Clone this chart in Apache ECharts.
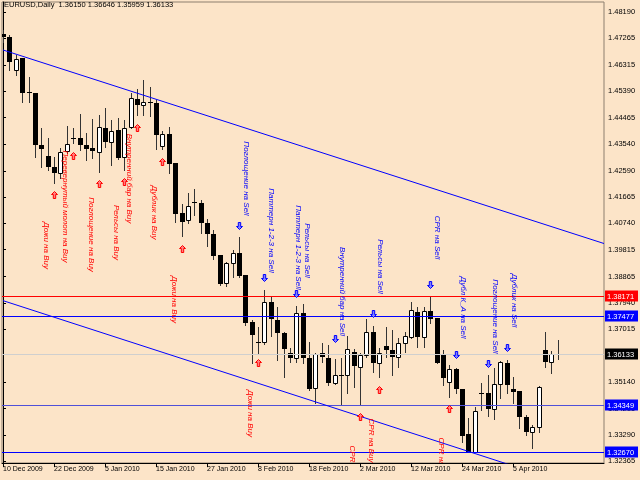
<!DOCTYPE html>
<html><head><meta charset="utf-8">
<script src="https://cdn.jsdelivr.net/npm/echarts@6/dist/echarts.min.js"></script>
<style>html,body{margin:0;padding:0;background:#FCE4C8}#c{width:640px;height:480px}</style>
</head><body><div id="c"></div><script>
const headerText = 'EURUSD,Daily  1.36150 1.36646 1.35959 1.36133';
const dateLabelBars = [0, 8, 16, 24, 32, 40, 48, 56, 64, 72, 80];
const dateLabels = ['10 Dec 2009','22 Dec 2009','5 Jan 2010','15 Jan 2010','27 Jan 2010','8 Feb 2010','18 Feb 2010','2 Mar 2010','12 Mar 2010','24 Mar 2010','5 Apr 2010'];
const priceTicks = [1.48190,1.47265,1.46315,1.45390,1.44465,1.43540,1.42590,1.41665,1.40740,1.39815,1.38865,1.37940,1.37015,1.35140,1.34215,1.33290,1.32365];

const opens = [1.47415,1.47309,1.46146,1.46569,1.45370,1.45335,1.43503,1.43115,1.42727,1.42516,
1.43291,1.43749,1.43749,1.43503,1.43397,1.43256,1.44102,1.43608,1.44031,1.43080,
1.44137,1.45124,1.44912,1.45018,1.44983,1.43467,1.43890,1.42868,1.41106,1.40859,
1.41494,1.41458,1.40754,1.40366,1.39626,1.38639,1.39344,1.39696,1.38921,1.37264,
1.36559,1.36559,1.37969,1.37335,1.36877,1.36172,1.35996,1.37582,1.35996,1.34938,
1.36172,1.35996,1.35114,1.35396,1.35396,1.36207,1.35678,1.36101,1.36912,1.35819,
1.36418,1.36278,1.36031,1.36524,1.36736,1.37617,1.36736,1.37652,1.37405,1.36101,
1.35150,1.35608,1.34903,1.33317,1.32683,1.34762,1.34762,1.34198,1.35079,1.35819,
1.34903,1.34833,1.33916,1.33388,1.33564,1.36278,1.35855,1.36150];
const highs = [1.47556,1.47379,1.46675,1.46569,1.45899,1.45335,1.44102,1.43749,1.43080,1.43397,
1.44172,1.44102,1.44595,1.43925,1.44419,1.44560,1.44807,1.44384,1.44454,1.44384,
1.45335,1.45476,1.45793,1.45547,1.45089,1.43996,1.44137,1.42868,1.41423,1.41811,
1.41952,1.41564,1.40894,1.40507,1.39626,1.39379,1.39802,1.40260,1.38921,1.37335,
1.37088,1.38392,1.38146,1.37793,1.36912,1.36348,1.37828,1.37899,1.36559,1.36172,
1.36524,1.36454,1.35960,1.35996,1.36771,1.36313,1.36172,1.37370,1.37123,1.36348,
1.37088,1.36982,1.36700,1.36912,1.37969,1.37793,1.37793,1.38146,1.37405,1.36278,
1.35749,1.35643,1.34903,1.33881,1.34269,1.35114,1.35396,1.35643,1.35890,1.35925,
1.35326,1.34833,1.33987,1.33634,1.35009,1.36912,1.36242,1.36646];
const lows = [1.47133,1.46146,1.45970,1.45018,1.45018,1.43080,1.42727,1.42621,1.42163,1.42339,
1.43221,1.43573,1.43326,1.42974,1.43044,1.42551,1.43432,1.42798,1.43009,1.42621,
1.44102,1.44560,1.44560,1.44525,1.43362,1.43362,1.42516,1.40789,1.40295,1.40754,
1.41035,1.40401,1.39943,1.39485,1.38569,1.38533,1.38850,1.38850,1.37159,1.35819,
1.36172,1.36489,1.36771,1.35925,1.35326,1.35855,1.35855,1.35819,1.34868,1.34410,
1.35855,1.35044,1.35079,1.34339,1.34762,1.34973,1.34339,1.36031,1.35502,1.35326,
1.36031,1.35396,1.35678,1.36207,1.36700,1.36383,1.36383,1.37229,1.35819,1.35044,
1.34621,1.34762,1.33035,1.32683,1.32683,1.34163,1.33951,1.33846,1.34586,1.34762,
1.34410,1.33528,1.33282,1.32824,1.33388,1.35678,1.35467,1.35959];
const closes = [1.47309,1.46428,1.46534,1.45335,1.45335,1.43503,1.43362,1.42727,1.42516,1.43256,
1.43538,1.43714,1.43503,1.43362,1.43291,1.44137,1.43608,1.43996,1.43044,1.44102,
1.45159,1.44912,1.45018,1.44983,1.43855,1.43890,1.42833,1.41071,1.40789,1.41353,
1.41458,1.40754,1.40366,1.39590,1.38604,1.39344,1.39696,1.38886,1.37229,1.36806,
1.36524,1.37969,1.37370,1.36877,1.36313,1.35996,1.37582,1.35996,1.34903,1.36137,
1.36031,1.35114,1.35396,1.35361,1.36313,1.35714,1.36101,1.36912,1.35819,1.36172,
1.36278,1.36031,1.36524,1.36771,1.37687,1.36736,1.37652,1.37370,1.35819,1.35291,
1.35608,1.34903,1.33247,1.32683,1.34128,1.34727,1.34198,1.35079,1.35855,1.35044,
1.34797,1.33916,1.33388,1.33564,1.34973,1.35855,1.36137,1.36133];

const buyBars = [8, 11, 15, 19, 21, 25, 28, 40, 56, 59, 70];
const buyPrices = [1.41740,1.43115,1.42128,1.42199,1.44102,1.42903,1.39837,1.35819,1.33916,1.34868,1.34198];
const buyTexts = ['Дожи на Buy','Перевернутый молот на Buy','Поглощение на Buy','Рельсы на Buy','Внутренний бар на Buy','Дублик на Buy','Дожи на Buy','Дожи на Buy','CPR на Buy','CPR на Buy','CPR на Buy'];
const sellBars = [37, 41, 46, 52, 58, 67, 71, 76, 79];
const sellPrices = [1.40683,1.38850,1.38286,1.36700,1.37582,1.38604,1.36137,1.35830,1.36394];
const sellTexts = ['Поглощение на Sell','Паттерн 1-2-3 на Sell','Паттерн 1-2-3 на Sell\nРельсы на Sell','Внутренний бар на Sell','Рельсы на Sell','CPR на Sell','Дубл К_А на Sell','Поглощение на Sell','Дублик на Sell'];

const upperChannel = [[0, 1.46851], [94.27, 1.40030]];
const lowerChannel = [[0, 1.38017], [80, 1.32194]];
const levelPrices = [1.38171, 1.37477, 1.36133, 1.34349, 1.32670];

const levelStyles = [
  {line:'#FF0000', tag:'#FF0000'},
  {line:'#0000FF', tag:'#0000FF'},
  {line:'#CFCFCF', tag:'#000000'},
  {line:'#5050D8', tag:'#0000FF'},
  {line:'#0000FF', tag:'#0000FF'}
];
const FONT = '"Liberation Sans", Arial, sans-serif';

const candleData = opens.map((o, i) => [i, o, highs[i], lows[i], closes[i]]);
const buyData = buyBars.map((b, i) => [b, buyPrices[i]]);
const sellData = sellBars.map((b, i) => [b, sellPrices[i]]);
const levelData = levelPrices.map((v, k) => [k, v]);

function renderCandle(params, api) {
  const i = api.value(0), o = api.value(1), h = api.value(2), l = api.value(3), c = api.value(4);
  const po = api.coord([i, o]), pc = api.coord([i, c]), ph = api.coord([i, h]), pl = api.coord([i, l]);
  const x = Math.round(po[0]);
  const top = Math.round(Math.min(po[1], pc[1])), bot = Math.round(Math.max(po[1], pc[1]));
  const up = c > o;
  const children = [
    {type:'line', shape:{x1:x+0.5, y1:Math.round(ph[1]), x2:x+0.5, y2:Math.round(pl[1])+1}, style:{stroke:'#333', lineWidth:1}}
  ];
  if (up) {
    children.push({type:'rect', shape:{x:x-1.5, y:top+0.5, width:4, height:Math.max(bot-top,1)}, style:{fill:'#FFFFFF', stroke:'#000', lineWidth:1}});
  } else {
    children.push({type:'rect', shape:{x:x-2, y:top, width:5, height:Math.max(bot-top,1)}, style:{fill:'#000', stroke:null}});
  }
  return {type:'group', children};
}

function renderLevel(params, api) {
  const v = api.value(1);
  const k = params.dataIndex;
  const cs = params.coordSys;
  const y = Math.round(api.coord([0, v])[1]) + 0.5;
  const xr = cs.x + cs.width;
  const st = levelStyles[k];
  return {type:'group', children:[
    {type:'line', shape:{x1: cs.x, y1: y, x2: xr, y2: y}, style:{stroke: st.line, lineWidth: 1}},
    {type:'rect', shape:{x: xr + 1, y: y - 6, width: 33, height: 11}, style:{fill: st.tag}},
    {type:'text', x: xr + 3, y: y, style:{text: v.toFixed(5), font: '7.5px ' + FONT, fill:'#FFFFFF', align:'left', verticalAlign:'middle'}}
  ]};
}

function makeSignalRenderer(isBuy) {
  const texts = isBuy ? buyTexts : sellTexts;
  const color = isBuy ? '#FF0000' : '#0000FF';
  return function (params, api) {
    const p = api.coord([api.value(0), api.value(1)]);
    const x = Math.round(p[0]) + 0.5, y = Math.round(p[1]) + 0.5;
    const pts = isBuy
      ? [[x, y-4], [x+3, y-1], [x+1.2, y-1], [x+1.2, y+3], [x-1.2, y+3], [x-1.2, y-1], [x-3, y-1]]
      : [[x, y+4], [x+3, y+1], [x+1.2, y+1], [x+1.2, y-3], [x-1.2, y-3], [x-1.2, y+1], [x-3, y+1]];
    const children = [{type:'polygon', shape:{points:pts}, style:{fill:isBuy ? '#FF8080' : '#8080FF', stroke:color, lineWidth:1}}];
    const lines = texts[params.dataIndex].split('\n');
    lines.forEach((ln, k) => {
      let dx, dy;
      if (isBuy) { dx = -8; dy = 50; }
      else if (lines.length > 1) { dx = 2 + k * 8.5; dy = -46 + k * 3; }
      else { dx = 6.5; dy = -47; }
      children.push({type:'text', x: x + dx, y: y + dy, rotation: -Math.PI / 2,
        style:{text: ln, font: 'italic 8px ' + FONT, fill: color, align:'center', verticalAlign:'middle'}});
    });
    return {type:'group', children};
  };
}

const chart = echarts.init(document.getElementById('c'), null, {renderer:'canvas'});
chart.setOption({
  animation: false,
  backgroundColor: '#FCE4C8',
  grid: {left: 2, right: 36, top: 2, bottom: 17, show: true, borderColor: '#8C7F6E', borderWidth: 1, backgroundColor: 'transparent'},
  graphic: [{type:'text', left: 4, top: 1, style:{text: headerText, font: '7.5px ' + FONT, fill:'#000'}}],
  xAxis: {
    type: 'value', min: -0.16, max: 94.27,
    axisLine: {show: true, lineStyle: {color:'#000', width: 1}},
    axisTick: {show: true, customValues: dateLabelBars, length: 4, lineStyle: {color:'#000'}},
    axisLabel: {show: true, customValues: dateLabelBars, align: 'left', margin: 3, fontSize: 7, fontFamily: FONT, color: '#000',
      formatter: v => dateLabels[dateLabelBars.indexOf(Math.round(v))] || ''},
    splitLine: {show: false}
  },
  yAxis: {
    type: 'value', position: 'right', min: 1.32295, max: 1.48542, scale: true,
    axisLine: {show: true, lineStyle: {color:'#000', width: 1}},
    axisTick: {show: true, customValues: priceTicks, length: 3, lineStyle: {color:'#000'}},
    axisLabel: {show: true, customValues: priceTicks, margin: 4, fontSize: 7.5, fontFamily: FONT, color: '#000',
      formatter: v => v.toFixed(5)},
    splitLine: {show: false}
  },
  series: [
    {type:'custom', name:'candles', renderItem: renderCandle, data: candleData, clip: true, z: 2,
      encode: {x: 0, y: [1, 2, 3, 4]}},
    {type:'custom', name:'levels', renderItem: renderLevel, data: levelData, clip: false, z: 3, silent: true,
      encode: {y: 1}},
    {type:'line', name:'upper', data: upperChannel, showSymbol: false, symbol:'none', clip: true, z: 3,
      lineStyle: {color:'#0000FF', width: 1}, silent: true},
    {type:'line', name:'lower', data: lowerChannel, showSymbol: false, symbol:'none', clip: true, z: 3,
      lineStyle: {color:'#0000FF', width: 1}, silent: true},
    {type:'custom', name:'buy', renderItem: makeSignalRenderer(true), data: buyData, clip: true, z: 4},
    {type:'custom', name:'sell', renderItem: makeSignalRenderer(false), data: sellData, clip: true, z: 4}
  ]
});
</script></body></html>
